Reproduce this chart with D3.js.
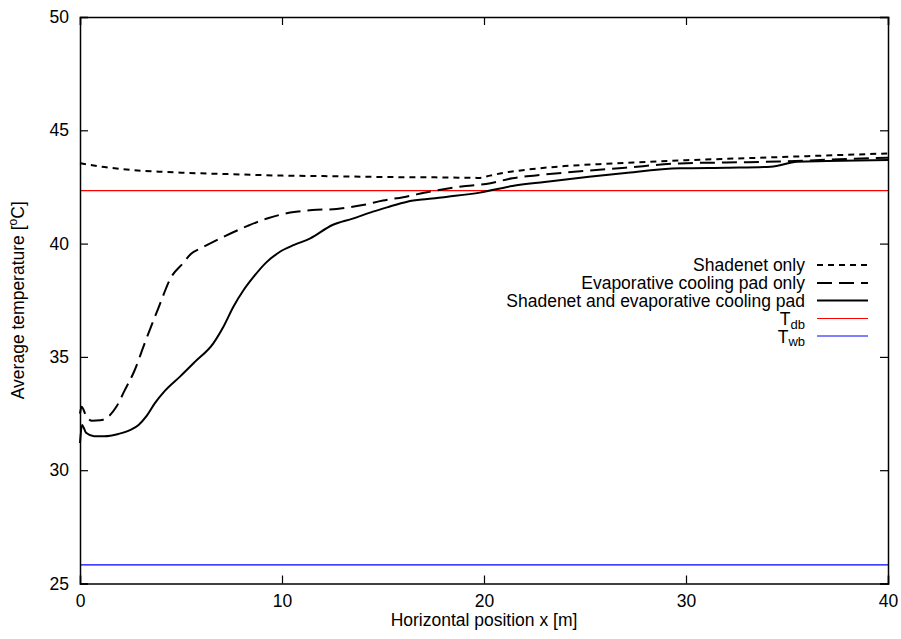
<!DOCTYPE html>
<html><head><meta charset="utf-8">
<script src="https://cdn.jsdelivr.net/npm/d3@7"></script>
<style>
body{margin:0;background:#fff;}
text{font-family:"Liberation Sans",Arial,Helvetica,sans-serif;}
</style></head>
<body><svg id="c" width="901" height="639"></svg>
<script>
const xTicks = [0, 10, 20, 30, 40];
const yTicks = [25, 30, 35, 40, 45, 50];

const shadeX = [0, 1, 2, 3, 4, 5, 6, 8, 10, 12, 14, 16, 18, 19.8, 20.3, 21, 22, 24, 26, 28, 30, 32, 34, 36, 38, 40];
const shadeT = [43.55, 43.4, 43.3, 43.22, 43.17, 43.13, 43.1, 43.05, 43.0, 42.98, 42.95, 42.93, 42.92, 42.9, 43.0, 43.13, 43.25, 43.42, 43.52, 43.6, 43.68, 43.74, 43.8, 43.86, 43.92, 43.98];

const evapX = [0, 0.08, 0.3, 0.6, 1.0, 1.4, 1.8, 2.2, 2.7, 3.2, 3.9, 4.5, 5.1, 5.5, 6.0, 7.1, 8.3, 9.3, 10.5, 11.5, 12.7, 14, 15, 16, 17.3, 18, 19.1, 20.1, 21.4, 23, 25.2, 27, 29.7, 32, 34.6, 37, 40];
const evapT = [32.5, 32.8, 32.4, 32.18, 32.2, 32.36, 32.8, 33.5, 34.4, 35.6, 37.2, 38.5, 39.13, 39.55, 39.8, 40.3, 40.78, 41.12, 41.38, 41.48, 41.53, 41.7, 41.9, 42.05, 42.29, 42.4, 42.54, 42.63, 42.88, 43.05, 43.22, 43.35, 43.54, 43.58, 43.62, 43.7, 43.79];

const bothX = [0, 0.1, 0.3, 0.7, 1.2, 1.9, 2.5, 2.9, 3.3, 3.7, 4.2, 4.95, 5.7, 6.6, 7.1, 7.6, 8.1, 8.6, 9.2, 9.9, 10.6, 11.4, 12.5, 13.5, 14.5, 15.2, 16.2, 17.2, 18.2, 19.8, 21.4, 23, 25.2, 27, 29.7, 32, 34.2, 35.5, 37, 40];
const bothT = [31.2, 32.0, 31.65, 31.5, 31.5, 31.6, 31.78, 32.0, 32.4, 32.95, 33.5, 34.13, 34.79, 35.6, 36.33, 37.22, 37.95, 38.54, 39.15, 39.64, 39.94, 40.23, 40.82, 41.1, 41.41, 41.6, 41.85, 41.97, 42.07, 42.25, 42.54, 42.72, 42.95, 43.12, 43.32, 43.35, 43.39, 43.61, 43.64, 43.69];

const Tdb = 42.34;
const Twb = 25.82;

const legendLabels = ["Shadenet only", "Evaporative cooling pad only", "Shadenet and evaporative cooling pad"];

const svg = d3.select("#c");
const L = 80, R = 888, T = 17, B = 583.5;
const x = d3.scaleLinear().domain([0, 40]).range([L, R]);
const y = d3.scaleLinear().domain([25, 50]).range([B, T]);

// reference lines
svg.append("line").attr("x1", x(0)).attr("x2", x(40)).attr("y1", y(Tdb)).attr("y2", y(Tdb))
  .attr("stroke", "#ff0000").attr("stroke-width", 1.2);
svg.append("line").attr("x1", x(0)).attr("x2", x(40)).attr("y1", y(Twb)).attr("y2", y(Twb))
  .attr("stroke", "#0000ff").attr("stroke-width", 1.2);

const line = d3.line().x(d => x(d[0])).y(d => y(d[1])).curve(d3.curveMonotoneX);
const series = [
  {xs: shadeX, ts: shadeT, dash: "6,5"},
  {xs: evapX, ts: evapT, dash: "15,7"},
  {xs: bothX, ts: bothT, dash: null}
];
series.forEach(s => {
  svg.append("path").datum(s.xs.map((v, i) => [v, s.ts[i]]))
    .attr("d", line).attr("fill", "none").attr("stroke", "#000")
    .attr("stroke-width", 2).attr("stroke-dasharray", s.dash);
});

// axes (gnuplot style: ticks inward, mirrored)
const fs = 17.5;
const ax = svg.append("g");
ax.append("g").attr("transform", `translate(0,${B})`)
  .call(d3.axisBottom(x).tickValues(xTicks).tickSize(-8).tickPadding(11).tickFormat(d3.format("d")));
ax.append("g").attr("transform", `translate(0,${T})`)
  .call(d3.axisTop(x).tickValues(xTicks).tickSize(-8).tickFormat(""));
ax.append("g").attr("transform", `translate(${L},0)`)
  .call(d3.axisLeft(y).tickValues(yTicks).tickSize(-8).tickPadding(11).tickFormat(d3.format("d")));
ax.append("g").attr("transform", `translate(${R},0)`)
  .call(d3.axisRight(y).tickValues(yTicks).tickSize(-8).tickFormat(""));
ax.selectAll(".domain").attr("stroke", "#000").attr("stroke-width", 1.5);
ax.selectAll(".tick line").attr("stroke", "#000").attr("stroke-width", 1.2);
ax.selectAll(".tick text").attr("font-size", fs).attr("fill", "#000")
  .attr("font-family", "'Liberation Sans',Arial,sans-serif");

// axis titles
svg.append("text").attr("x", (L + R) / 2).attr("y", 626).attr("text-anchor", "middle")
  .attr("font-size", fs).text("Horizontal position x [m]");
const yt = svg.append("text").attr("transform", `translate(24,${(T + B) / 2}) rotate(-90)`)
  .attr("text-anchor", "middle").attr("font-size", fs);
yt.append("tspan").text("Average temperature [");
yt.append("tspan").attr("font-size", 12).attr("dy", -7).text("o");
yt.append("tspan").attr("dy", 7).text("C]");

// legend
const lx1 = 817, lx2 = 868, tx = 805;
const rows = [265, 283, 300.5];
legendLabels.forEach((lab, i) => {
  svg.append("text").attr("x", tx).attr("y", rows[i] + 6).attr("text-anchor", "end")
    .attr("font-size", fs).text(lab);
  svg.append("line").attr("x1", lx1).attr("x2", lx2).attr("y1", rows[i]).attr("y2", rows[i])
    .attr("stroke", "#000").attr("stroke-width", 2).attr("stroke-dasharray", series[i].dash);
});
const sub = [["T", "db", 318.5, "#ff0000"], ["T", "wb", 336, "#0000ff"]];
sub.forEach(s => {
  const t = svg.append("text").attr("x", tx).attr("y", s[2] + 6.5).attr("text-anchor", "end").attr("font-size", fs);
  t.append("tspan").text(s[0]);
  t.append("tspan").attr("font-size", 13).attr("dy", 3.5).text(s[1]);
  svg.append("line").attr("x1", lx1).attr("x2", lx2).attr("y1", s[2]).attr("y2", s[2])
    .attr("stroke", s[3]).attr("stroke-width", 1.2);
});
</script></body></html>
